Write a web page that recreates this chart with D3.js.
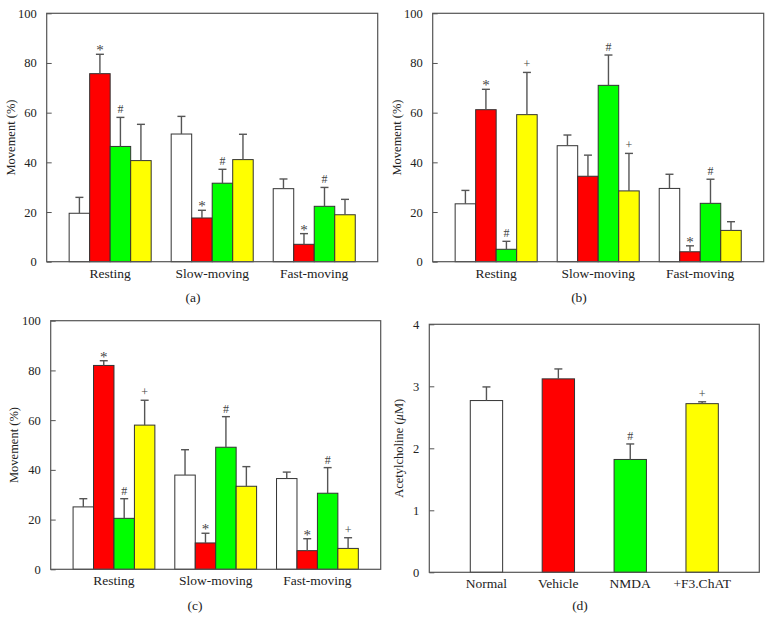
<!DOCTYPE html>
<html><head><meta charset="utf-8">
<script src="https://cdn.jsdelivr.net/npm/d3@7"></script>
<style>body{margin:0;background:#fff}svg{display:block}</style>
</head><body>
<svg id="chart" width="772" height="632" font-family="'Liberation Serif', 'DejaVu Serif', serif"></svg>
<script>
const categories = ["Resting", "Slow-moving", "Fast-moving"];
const series = ["Normal", "Vehicle", "NMDA", "+F3.ChAT"];
const seriesColors = ["#ffffff", "#ff0000", "#00ff00", "#ffff00"];
const movementTicks = [0, 20, 40, 60, 80, 100];
const achTicks = [0, 1, 2, 3, 4];

// Panel (a)
const aMean = [[19.5, 75.7, 46.4, 40.7], [51.4, 17.6, 31.6, 41.1], [29.4, 7.0, 22.3, 18.9]];
const aErr  = [[6.4, 7.8, 11.7, 14.6], [7.1, 3.1, 5.6, 10.2], [3.9, 4.3, 7.6, 6.2]];
const aMark = [["", "*", "#", ""], ["", "*", "#", ""], ["", "*", "#", ""]];
// Panel (b)
const bMean = [[23.3, 61.2, 5.0, 59.2], [46.7, 34.4, 71.0, 28.5], [29.5, 4.0, 23.5, 12.6]];
const bErr  = [[5.4, 8.2, 3.2, 17.0], [4.3, 8.5, 12.2, 15.1], [5.7, 2.4, 9.7, 3.5]];
const bMark = [["", "*", "#", "+"], ["", "", "#", "+"], ["", "*", "#", ""]];
// Panel (c)
const cMean = [[25.1, 82.0, 20.5, 58.0], [37.9, 10.6, 49.1, 33.4], [36.5, 7.5, 30.6, 8.4]];
const cErr  = [[3.3, 1.9, 7.9, 10.0], [10.2, 3.9, 12.3, 7.9], [2.6, 4.8, 10.3, 4.3]];
const cMark = [["", "*", "#", "+"], ["", "*", "#", ""], ["", "*", "#", "+"]];
// Panel (d)
const dMean = [2.77, 3.12, 1.82, 2.72];
const dErr  = [0.22, 0.16, 0.25, 0.03];
const dMark = ["", "", "#", "+"];

const FONT = "'Liberation Serif', 'DejaVu Serif', serif";
const svg = d3.select("#chart");
const AX = "#555", BAR = "#333", TXT = "#222";

function frame(g, x0, x1, y0, y1, yScale, ticks, labelX) {
  g.append("rect").attr("x", x0).attr("y", y0).attr("width", x1 - x0).attr("height", y1 - y0)
    .attr("fill", "none").attr("stroke", AX).attr("stroke-width", 1.2);
  const ax = g.append("g").attr("transform", `translate(${x0},0)`)
    .call(d3.axisLeft(yScale).tickValues(ticks).tickFormat(d3.format("d"))
      .tickSizeInner(-5).tickSizeOuter(0).tickPadding(10));
  ax.attr("font-family", FONT);
  ax.select(".domain").remove();
  ax.selectAll("line").attr("stroke", AX);
  ax.selectAll("text").attr("font-size", 12.5).attr("fill", TXT);
  return g.append("text").attr("transform", `translate(${labelX},${(y0 + y1) / 2}) rotate(-90)`)
    .attr("text-anchor", "middle").attr("font-size", 12.5).attr("fill", TXT);
}

function errorBar(g, cx, yTop, yMean, mark) {
  g.append("line").attr("x1", cx).attr("x2", cx).attr("y1", yMean).attr("y2", yTop)
    .attr("stroke", AX).attr("stroke-width", 1.4);
  g.append("line").attr("x1", cx - 4).attr("x2", cx + 4).attr("y1", yTop).attr("y2", yTop)
    .attr("stroke", AX).attr("stroke-width", 1.4);
  if (mark) {
    const star = mark === "*";
    g.append("text").attr("x", cx).attr("y", star ? yTop + 1 : yTop - 4)
      .attr("text-anchor", "middle").attr("font-size", star ? 15 : 12)
      .attr("fill", "#444").text(mark);
  }
}

function groupedPanel(x0, x1, y0, y1, means, errs, marks, labelX, panelLabel, plX, plY) {
  const g = svg.append("g");
  const y = d3.scaleLinear().domain([0, 100]).range([y1, y0]);
  const xo = d3.scaleBand().domain(categories).range([x0, x1]).paddingInner(0.196).paddingOuter(0.22);
  const xi = d3.scaleBand().domain(series).range([0, xo.bandwidth()]).padding(0);
  categories.forEach((c, ci) => {
    series.forEach((s, si) => {
      const bx = xo(c) + xi(s);
      g.append("rect").attr("x", bx).attr("y", y(means[ci][si]))
        .attr("width", xi.bandwidth()).attr("height", y(0) - y(means[ci][si]))
        .attr("fill", seriesColors[si]).attr("stroke", BAR).attr("stroke-width", 1);
    });
  });
  categories.forEach((c, ci) => {
    series.forEach((s, si) => {
      const cx = xo(c) + xi(s) + xi.bandwidth() / 2;
      errorBar(g, cx, y(means[ci][si] + errs[ci][si]), y(means[ci][si]), marks[ci][si]);
    });
  });
  frame(g, x0, x1, y0, y1, y, movementTicks, labelX).text("Movement (%)");
  categories.forEach(c => {
    g.append("text").attr("x", xo(c) + xo.bandwidth() / 2).attr("y", y1 + 16)
      .attr("text-anchor", "middle").attr("font-size", 13.5).attr("fill", TXT).text(c);
  });
  g.append("text").attr("x", plX).attr("y", plY).attr("text-anchor", "middle")
    .attr("font-size", 13.5).attr("fill", TXT).text(panelLabel);
}

groupedPanel(46.7, 377.7, 13.3, 261.7, aMean, aErr, aMark, 15, "(a)", 193, 302);
groupedPanel(432.7, 763.7, 13.3, 261.7, bMean, bErr, bMark, 401, "(b)", 579, 302);
groupedPanel(50.7, 380.7, 320.7, 569.3, cMean, cErr, cMark, 18, "(c)", 195, 610);

// Panel (d)
(function () {
  const x0 = 429.3, x1 = 759.3, y0 = 324.3, y1 = 572.3;
  const g = svg.append("g");
  const y = d3.scaleLinear().domain([0, 4]).range([y1, y0]);
  const x = d3.scaleBand().domain(series).range([x0, x1]).paddingInner(0.55).paddingOuter(0.57);
  series.forEach((s, i) => {
    g.append("rect").attr("x", x(s)).attr("y", y(dMean[i])).attr("width", x.bandwidth())
      .attr("height", y(0) - y(dMean[i])).attr("fill", seriesColors[i]).attr("stroke", BAR).attr("stroke-width", 1);
  });
  series.forEach((s, i) => {
    errorBar(g, x(s) + x.bandwidth() / 2, y(dMean[i] + dErr[i]), y(dMean[i]), dMark[i]);
  });
  const yl = frame(g, x0, x1, y0, y1, y, achTicks, 403);
  yl.append("tspan").text("Acetylcholine (");
  yl.append("tspan").attr("font-style", "italic").text("\u03BC");
  yl.append("tspan").text("M)");
  series.forEach(s => {
    g.append("text").attr("x", x(s) + x.bandwidth() / 2).attr("y", y1 + 16)
      .attr("text-anchor", "middle").attr("font-size", 13.5).attr("fill", TXT).text(s);
  });
  g.append("text").attr("x", 580).attr("y", 610).attr("text-anchor", "middle")
    .attr("font-size", 13.5).attr("fill", TXT).text("(d)");
})();
</script>
</body></html>
